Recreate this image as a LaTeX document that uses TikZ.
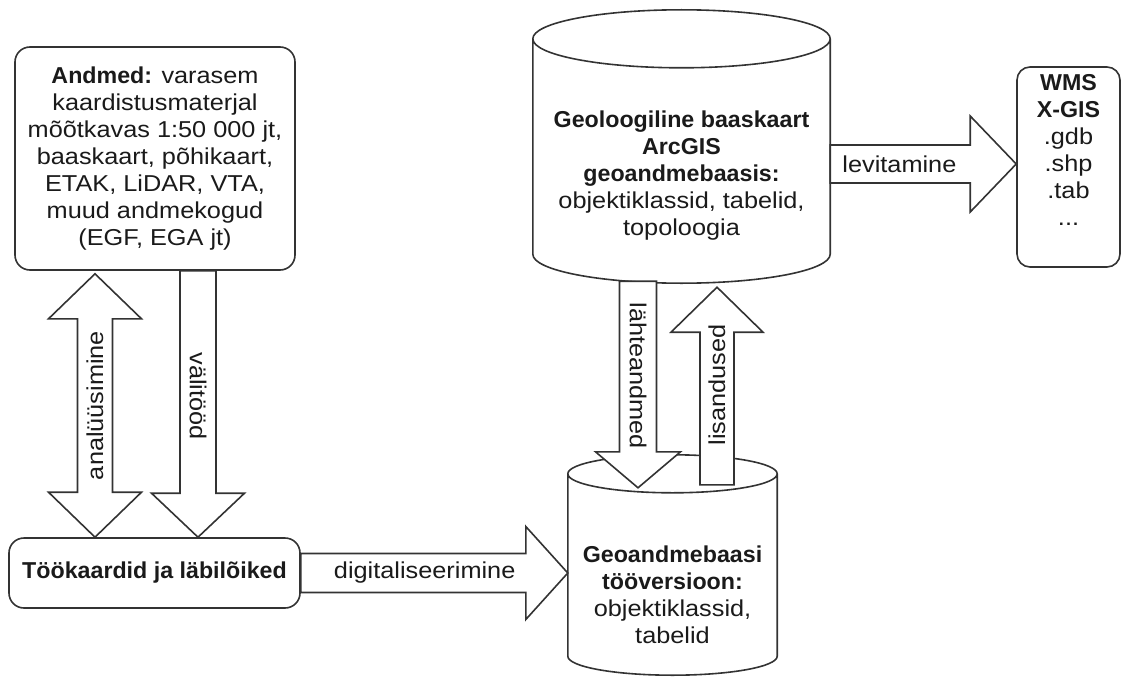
\documentclass[tikz,border=0pt]{standalone}
\usepackage{fontspec}
\setmainfont{Liberation Sans}[FakeStretch=1.1,BoldFeatures={FakeStretch=1.01}]
\usetikzlibrary{calc}
\definecolor{edgegray}{HTML}{333333}
\definecolor{textgray}{HTML}{1A1A1A}

\newcommand\dbdrum[2]{%
\draw[edge] let \p1=(#1.north west), \p2=(#1.south east), \n1={(\x2-\x1)/2} in
  (\x1,\y1-#2) arc[start angle=180,end angle=360,x radius=\n1,y radius=#2]
  arc[start angle=0,end angle=180,x radius=\n1,y radius=#2]
  -- (\x1,\y2+#2) arc[start angle=180,end angle=360,x radius=\n1,y radius=#2]
  -- (\x2,\y1-#2);}

\begin{document}
\begin{tikzpicture}[x=1pt,y=1pt,
  every node/.style={font=\fontsize{23}{27}\selectfont,text=textgray},
  edge/.style={draw=edgegray,line width=1.6pt},
  box/.style={edge,rounded corners=15pt,align=center,inner sep=0pt},
  drum/.style={inner sep=0pt},
  txt/.style={align=center,inner sep=0pt},
  blk/.style={edge,fill=white,line join=miter},
  flex/.style n args={3}{to path={
    ($(\tikztostart)!#1!90:(\tikztotarget)$)
    -- ($($(\tikztotarget)!#3!(\tikztostart)$)!#1!90:(\tikztotarget)$)
    -- ($($(\tikztotarget)!#3!(\tikztostart)$)!#2!90:(\tikztotarget)$)
    -- (\tikztotarget)
    -- ($($(\tikztotarget)!#3!(\tikztostart)$)!#2!-90:(\tikztotarget)$)
    -- ($($(\tikztotarget)!#3!(\tikztostart)$)!#1!-90:(\tikztotarget)$)
    -- ($(\tikztostart)!#1!-90:(\tikztotarget)$) -- cycle}},
  flexboth/.style n args={3}{to path={
    (\tikztostart)
    -- ($($(\tikztostart)!#3!(\tikztotarget)$)!#2!-90:(\tikztotarget)$)
    -- ($($(\tikztostart)!#3!(\tikztotarget)$)!#1!-90:(\tikztotarget)$)
    -- ($($(\tikztotarget)!#3!(\tikztostart)$)!#1!-90:(\tikztotarget)$)
    -- ($($(\tikztotarget)!#3!(\tikztostart)$)!#2!-90:(\tikztotarget)$)
    -- (\tikztotarget)
    -- ($($(\tikztotarget)!#3!(\tikztostart)$)!#2!90:(\tikztotarget)$)
    -- ($($(\tikztotarget)!#3!(\tikztostart)$)!#1!90:(\tikztotarget)$)
    -- ($($(\tikztostart)!#3!(\tikztotarget)$)!#1!90:(\tikztotarget)$)
    -- ($($(\tikztostart)!#3!(\tikztotarget)$)!#2!90:(\tikztotarget)$) -- cycle}}]
\useasboundingbox (0,0) rectangle (1121,-677);

\node[box,minimum width=280,minimum height=223] (andmed) at (155,-158.5)
  {\textbf{Andmed:} varasem\\kaardistusmaterjal\\mõõtkavas 1:50 000 jt,\\baaskaart, põhikaart,\\ETAK, LiDAR, VTA,\\muud andmekogud\\(EGF, EGA jt)};
\node[box,minimum width=291,minimum height=70] (tookaart) at (154.5,-573)
  {\textbf{Töökaardid ja läbilõiked}};
\node[box,rounded corners=13pt,minimum width=103,minimum height=200] (formats) at (1068.5,-167) {};
\node[txt,anchor=north] (formatstxt) at ([yshift=-8]formats.north)
  {\textbf{WMS}\\\textbf{X-GIS}\\.gdb\\.shp\\.tab\\...};

\node[drum,minimum width=297,minimum height=273] (geobaas) at (681.5,-146.5) {};
\node[drum,minimum width=209,minimum height=220] (geowork) at (672.5,-565) {};
\dbdrum{geobaas}{29pt}
\dbdrum{geowork}{19pt}
\node[txt] (geobaastxt) at ([yshift=-29.5]geobaas.center)
  {\textbf{Geoloogiline baaskaart}\\\textbf{ArcGIS}\\\textbf{geoandmebaasis:}\\objektiklassid, tabelid,\\topoloogia};
\node[txt] (geoworktxt) at ([yshift=-30]geowork.center)
  {\textbf{Geoandmebaasi}\\\textbf{tööversioon:}\\objektiklassid,\\tabelid};

\coordinate (an1) at ($(andmed.south)+(-60,-3)$);
\coordinate (an2) at ($(tookaart.north)+(-59.5,0)$);
\coordinate (va1) at ($(andmed.south)+(43,0)$);
\coordinate (va2) at ($(tookaart.north)+(43.5,0)$);
\coordinate (di1) at (tookaart.east);
\coordinate (di2) at (tookaart.east -| geowork.west);
\coordinate (le1) at ($(geobaas.east)+(0,-17.5)$);
\coordinate (le2) at (le1 -| formats.west);
\coordinate (la1) at ($(geobaas.south)+(-43.5,2)$);
\coordinate (la2) at ($(geowork.north)+(-34.5,-33)$);
\coordinate (li1) at ($(geowork.north)+(44.5,-30)$);
\coordinate (li2) at ($(geobaas.south)+(35.5,-4)$);

\draw[blk] (an1) to[flexboth={17.5pt}{46.5pt}{45pt}] (an2);
\draw[blk] (va1) to[flex={18pt}{46.5pt}{44pt}] (va2);
\draw[blk] (di1) to[flex={19.5pt}{46.5pt}{42pt}] (di2);
\draw[blk] (le1) to[flex={19pt}{48pt}{46pt}] (le2);
\draw[blk] (la1) to[flex={18.5pt}{42.5pt}{36pt}] (la2);
\draw[blk] (li1) to[flex={17pt}{46pt}{45pt}] (li2);

\node[rotate=90] (lblan) at ($(an1)!0.5!(an2)$) {analüüsimine};
\node[rotate=-90] (lblva) at ($(va1)!0.47!(va2)$) {välitööd};
\node (lbldi) at ($(di1)!0.464!(di2)$) {digitaliseerimine};
\node (lblle) at ($(le1)!0.372!(le2)$) {levitamine};
\node[rotate=-90] (lblla) at ($(la1)!0.457!(la2)$) {lähteandmed};
\node[rotate=90] (lblli) at ($(li1)!0.505!(li2)$) {lisandused};
\end{tikzpicture}
\end{document}
